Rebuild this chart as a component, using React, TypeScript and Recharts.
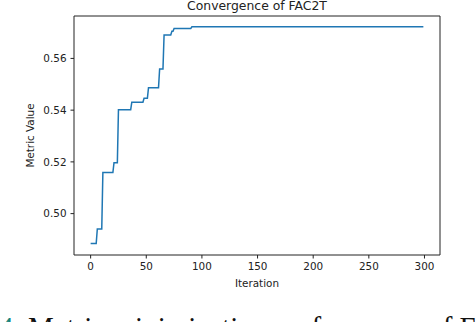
import { Line, LineChart, ReferenceLine, XAxis, YAxis } from "recharts";

// plateau ends: each jump goes from (i, old) to (i + 1, new)
const ITERATIONS = [0, 5, 6, 10, 11, 20, 21, 24, 25, 36, 37, 47, 48, 51, 52, 61, 62, 65, 66, 72, 73, 74, 75, 90, 91, 299];
const VALUES = [
  0.4884, 0.4884, 0.4941, 0.4941, 0.5159, 0.5159, 0.5197, 0.5197, 0.5402, 0.5402,
  0.5431, 0.5431, 0.5446, 0.5446, 0.5487, 0.5487, 0.5559, 0.5559, 0.5691, 0.5691,
  0.5705, 0.5705, 0.5716, 0.5716, 0.5722, 0.5722,
];
const X_TICKS = [0, 50, 100, 150, 200, 250, 300];
const Y_TICKS = [0.5, 0.52, 0.54, 0.56];
const X_DOMAIN: [number, number] = [-14.95, 313.95];
const Y_DOMAIN: [number, number] = [0.484, 0.5764];

const FONT = "'DejaVu Sans', sans-serif";
const INK = "#222";
const TICK = { fill: INK, fontSize: 10.4, fontFamily: FONT };

const data = ITERATIONS.map((it, i) => ({ it, v: VALUES[i] }));

export default function App() {
  return (
    <div style={{ position: "absolute", left: 0, top: 0, width: 476, height: 322, background: "#fff", overflow: "hidden" }}>
      <LineChart width={476} height={322} data={data} margin={{ top: 16, right: 36, left: 0, bottom: 0 }}>
        <XAxis
          dataKey="it"
          type="number"
          domain={X_DOMAIN}
          ticks={X_TICKS}
          allowDataOverflow
          height={67}
          tick={TICK}
          tickSize={3.5}
          tickMargin={4}
          stroke={INK}
          tickLine={{ stroke: INK }}
        />
        <YAxis
          type="number"
          domain={Y_DOMAIN}
          ticks={Y_TICKS}
          allowDataOverflow
          width={74}
          tick={TICK}
          tickSize={3.5}
          tickMargin={4}
          tickFormatter={(v: number) => v.toFixed(2)}
          stroke={INK}
          tickLine={{ stroke: INK }}
        />
        {/* top and right spines */}
        <ReferenceLine y={Y_DOMAIN[1]} stroke={INK} strokeWidth={1} />
        <ReferenceLine x={X_DOMAIN[1]} stroke={INK} strokeWidth={1} />
        <Line
          dataKey="v"
          type="linear"
          stroke="#1f77b4"
          strokeWidth={1.5}
          dot={false}
          isAnimationActive={false}
        />
      </LineChart>
      <svg width={476} height={322} style={{ position: "absolute", left: 0, top: 0, pointerEvents: "none" }}>
        <text x={257} y={9.5} textAnchor="middle" fontSize={12.4} fontFamily={FONT} fill={INK}>
          Convergence of FAC2T
        </text>
        <text x={257} y={287.3} textAnchor="middle" fontSize={10.4} fontFamily={FONT} fill={INK}>
          Iteration
        </text>
        <text
          transform="translate(33.5,135.5) rotate(-90)"
          textAnchor="middle"
          fontSize={10.4}
          fontFamily={FONT}
          fill={INK}
        >
          Metric Value
        </text>
        <text x={-1} y={337} fontSize={29} fontFamily="'Liberation Serif', serif" fill="#111">
          <tspan fill="#17857c">4.</tspan> Metric minimization performance of FAC2T
        </text>
      </svg>
    </div>
  );
}
